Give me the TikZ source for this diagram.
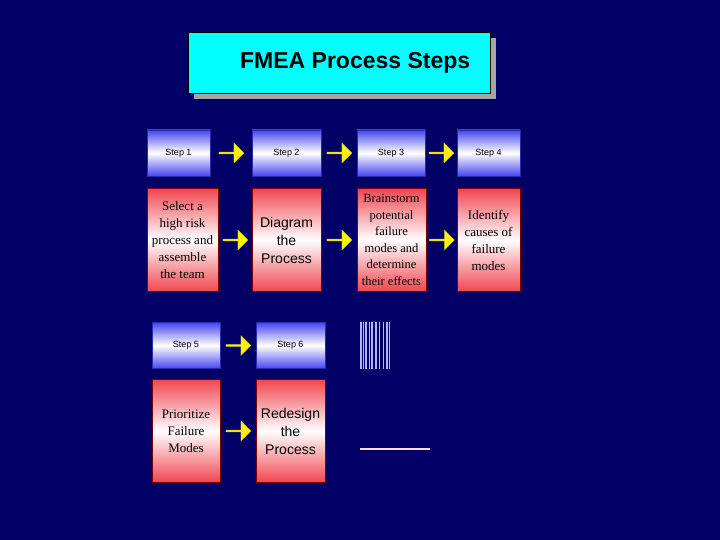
\documentclass[tikz,border=0pt]{standalone}
\usepackage{fontspec}
\setmainfont{Liberation Serif}
\newfontfamily\sansf{Liberation Sans}
\usetikzlibrary{shapes.arrows,calc}
\definecolor{navy}{RGB}{0,0,102}
\definecolor{stepblue}{RGB}{70,70,240}
\definecolor{boxred}{RGB}{240,70,80}
\definecolor{titlecyan}{RGB}{0,255,255}
\tikzset{
  stepbox/.style={draw=stepblue!60!navy,top color=stepblue,bottom color=stepblue,middle color=white,
    minimum width=#1,minimum height=46pt,inner sep=0pt,font=\sansf\fontsize{9}{10}\selectfont},
  taskbox/.style={draw=red!50!black,top color=boxred,bottom color=boxred,middle color=white,
    minimum width=#1,minimum height=103pt,inner sep=1pt,align=center,font=\fontsize{13}{17}\selectfont},
  blockarrow/.style={single arrow,fill=yellow,draw=yellow!80!black,minimum height=25pt,
    minimum width=20pt,single arrow head extend=2pt,inner sep=0pt,shape border rotate=0},
}
\begin{document}
\begin{tikzpicture}[x=1pt,y=-1pt]
\fill[navy] (0,0) rectangle (720,540);
\useasboundingbox (0,0) rectangle (720,540);

% title
\fill[gray!70] (194,38) rectangle (496,99);
\node[draw=black,fill=titlecyan,minimum width=302pt,minimum height=61pt,anchor=north west,
  font=\sansf\bfseries\fontsize{23}{26}\selectfont] (title) at (188,32) {\hspace{32pt}FMEA Process Steps};

% top row
\node[stepbox=63pt] (s1) at (178.5,153) {Step 1};
\node[stepbox=69pt] (s2) at (286.5,153) {Step 2};
\node[stepbox=68pt] (s3) at (391,153) {Step 3};
\node[stepbox=63pt] (s4) at (488.5,153) {Step 4};
\node[taskbox=71pt] (t1) at (182.5,240) {Select a\\high risk\\process and\\assemble\\the team};
\node[taskbox=69pt,font=\sansf\fontsize{14}{18}\selectfont] (t2) at (286.5,240) {Diagram\\the\\Process};
\node[taskbox=69pt,font=\fontsize{12.5}{16.5}\selectfont] (t3) at (391.5,240) {Brainstorm\\potential\\failure\\modes and\\determine\\their effects};
\node[taskbox=63pt] (t4) at (488.5,240) {Identify\\causes of\\failure\\modes};

% bottom row
\node[stepbox=68pt] (s5) at (186,345.5) {Step 5};
\node[stepbox=69pt] (s6) at (290.5,345.5) {Step 6};
\node[taskbox=68pt] (t5) at (186,431) {Prioritize\\Failure\\Modes};
\node[taskbox=69pt,font=\sansf\fontsize{14}{18}\selectfont] (t6) at (290.5,431) {Redesign\\the\\Process};

% arrows
\foreach \a/\b in {s1/s2,s2/s3,s3/s4,t1/t2,t2/t3,t3/t4,s5/s6,t5/t6}
  \node[blockarrow] (a-\a) at ($(\a.east)!0.5!(\b.west)$) {};

% leftovers
\foreach \x/\w in {361/1.2,363.5/0.8,366/1.5,369/1,372/2,376/1.2,379.5/1.8,383/1,386.5/2,389.5/1.2}
  \draw[blue!30!white,line width=\w pt] (\x,322) -- (\x,369);
\draw[red!15!white,line width=1.5pt] (360,449) -- (430,449);
\end{tikzpicture}
\end{document}
